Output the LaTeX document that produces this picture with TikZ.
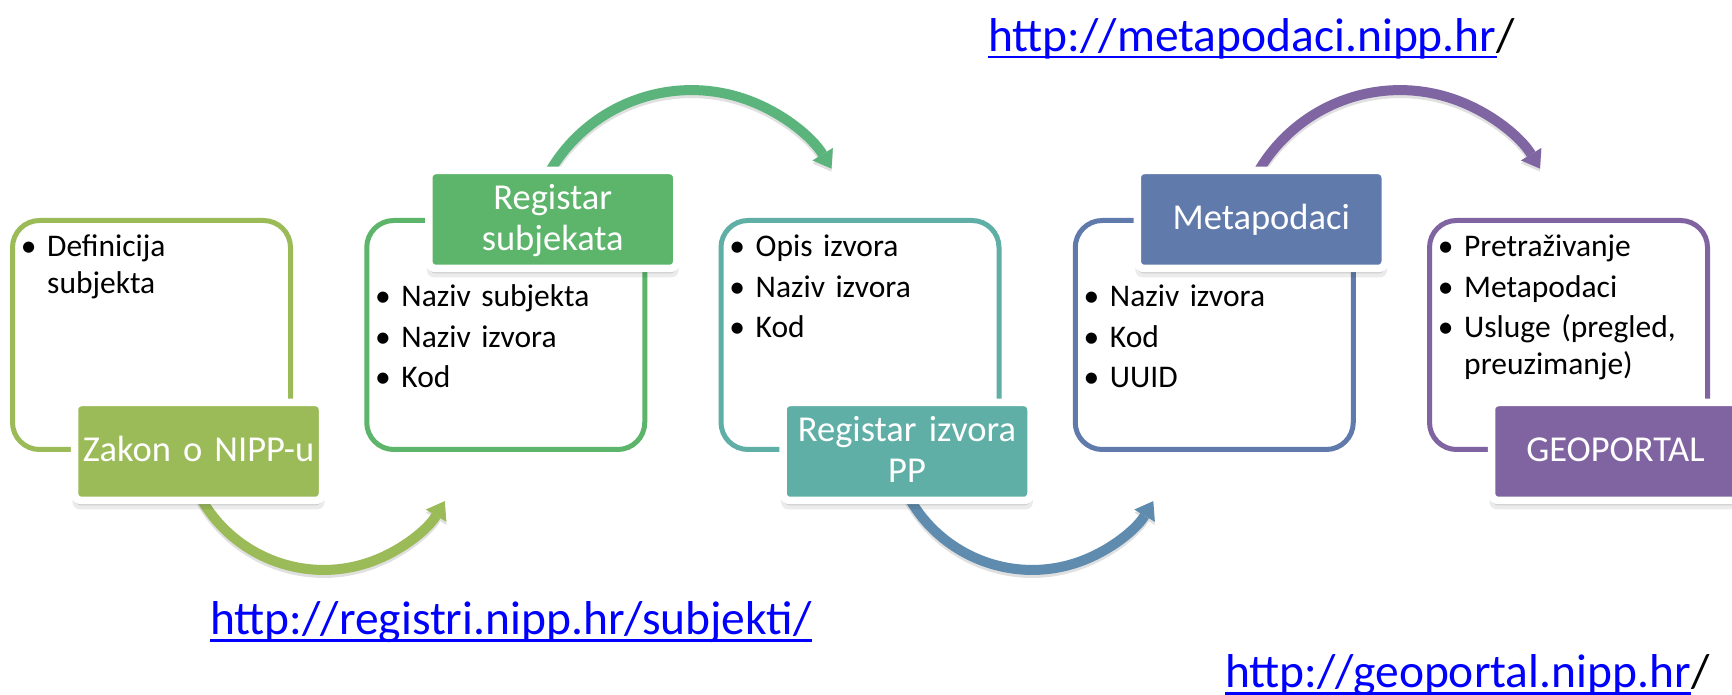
\documentclass[tikz,border=0pt]{standalone}
\usepackage{fontspec}
\setmainfont{Carlito}
\usetikzlibrary{arrows.meta,shadows}
\pgfdeclarelayer{back}
\pgfdeclarelayer{bg}
\pgfsetlayers{back,bg,main}
\definecolor{cA}{HTML}{9BBB59}
\definecolor{cB}{HTML}{5CB56A}
\definecolor{cAB}{HTML}{5BB47C}
\definecolor{cC}{HTML}{5FAFA6}
\definecolor{cCD}{HTML}{5F8CAE}
\definecolor{cD}{HTML}{607AAB}
\definecolor{cDE}{HTML}{7F66A3}
\definecolor{cE}{HTML}{8064A2}
\definecolor{urlblue}{HTML}{0000FF}
\newcommand{\bl}{\leavevmode\llap{\makebox[37pt]{•}}}
\tikzset{
  frame/.style={draw=#1, line width=5pt, rounded corners=27pt, minimum width=278pt, minimum height=229pt, inner sep=0pt},
  lbl/.style={fill=#1, draw=white, line width=7.5pt, rounded corners=7pt, minimum width=248pt, minimum height=98pt,
    inner sep=0pt, text width=240pt, align=center, text=white, font=\fontsize{36.5}{41}\selectfont,
    general shadow={fill=black, opacity=0.08, shadow yshift=-8pt, shadow scale=1.015},
    general shadow={fill=black, opacity=0.12, shadow yshift=-5pt}},
  one/.style={text height=21pt, text depth=0pt},
  two/.style={text height=21pt, text depth=41pt},
  item/.style={anchor=base west, inner sep=0pt, text width=270pt, align=left, font=\fontsize{31.5}{37}\selectfont},
  flow/.style={draw=#1, line width=10pt, -{Triangle[length=17pt,width=24pt,line width=0pt]}},
  flowshadow/.style={draw=black, opacity=0.12, line width=10pt, -{Triangle[length=17pt,width=24pt,line width=0pt]}},
  url/.style={anchor=base west, inner sep=0pt, text=urlblue, font=\fontsize{47.5}{55}\selectfont},
  slash/.style={anchor=base west, inner sep=0pt, text=black, font=\fontsize{47.5}{55}\selectfont},
  uline/.style={draw=urlblue, line width=2.5pt},
}
\begin{document}
\begin{tikzpicture}[x=1pt,y=1pt]
\useasboundingbox (0,0) rectangle (1732,695);
\begin{pgfonlayer}{back}
\fill[white] (0,0) rectangle (1732,695);
\end{pgfonlayer}

% boxes
\node[frame=cA] (box1) at (151.5,360) {};
\node[frame=cB] (box2) at (505.75,360) {};
\node[frame=cC] (box3) at (860,360) {};
\node[frame=cD] (box4) at (1214.25,360) {};
\node[frame=cE] (box5) at (1568.5,360) {};

% labels
\node[lbl=cA, one] (lab1) at (198.5,243.5) {Zakon o NIPP-u};
\node[lbl=cB, two] (lab2) at (552.75,475.5) {Registar\\subjekata};
\node[lbl=cC, two] (lab3) at (907,243.5) {Registar izvora\\PP};
\node[lbl=cD, one] (lab4) at (1261.25,475.5) {Metapodaci};
\node[lbl=cE, one] (lab5) at (1615.5,243.5) {GEOPORTAL};

% items
\node[item] (i11) at (47,438) {\bl Definicija\\subjekta};
\node[item] (i21) at (401.25,388) {\bl Naziv subjekta};
\node[item] (i22) at (401.25,347.5) {\bl Naziv izvora};
\node[item] (i23) at (401.25,307) {\bl Kod};
\node[item] (i31) at (755.5,438) {\bl Opis izvora};
\node[item] (i32) at (755.5,397.5) {\bl Naziv izvora};
\node[item] (i33) at (755.5,357) {\bl Kod};
\node[item] (i41) at (1109.75,388) {\bl Naziv izvora};
\node[item] (i42) at (1109.75,347.5) {\bl Kod};
\node[item] (i43) at (1109.75,307) {\bl UUID};
\node[item] (i51) at (1464,438) {\bl Pretraživanje};
\node[item] (i52) at (1464,397.5) {\bl Metapodaci};
\node[item] (i53) at (1464,357) {\bl Usluge (pregled,\\preuzimanje)};

% arc centres
\path ([xshift=6pt]lab1.south) ++(32.3:141) coordinate (c1);
\path (lab2.north) ++(-32.2:164) coordinate (c2);
\path ([xshift=6pt]lab3.south) ++(32.3:141) coordinate (c3);
\path (lab4.north) ++(-32.2:164) coordinate (c4);

\begin{pgfonlayer}{bg}
\draw[flowshadow] ([yshift=-3pt]c1) ++(200:141) arc[start angle=200, end angle=329.2, radius=141];
\draw[flowshadow] ([yshift=-3pt]c2) ++(160:164) arc[start angle=160, end angle=31.4, radius=164];
\draw[flowshadow] ([yshift=-3pt]c3) ++(200:141) arc[start angle=200, end angle=329.2, radius=141];
\draw[flowshadow] ([yshift=-3pt]c4) ++(160:164) arc[start angle=160, end angle=31.4, radius=164];
\draw[flow=cA] (c1) ++(200:141) arc[start angle=200, end angle=329.2, radius=141];
\draw[flow=cAB] (c2) ++(160:164) arc[start angle=160, end angle=31.4, radius=164];
\draw[flow=cCD] (c3) ++(200:141) arc[start angle=200, end angle=329.2, radius=141];
\draw[flow=cDE] (c4) ++(160:164) arc[start angle=160, end angle=31.4, radius=164];
\end{pgfonlayer}

% URLs
\node[url] (url1) at (210,60) {http://registri.nipp.hr/subjekti/};
\draw[uline] ([yshift=-5.5pt]url1.base west) -- ([yshift=-5.5pt]url1.base east);
\node[url] (url2) at (988,643.5) {http://metapodaci.nipp.hr};
\draw[uline] ([yshift=-5.5pt]url2.base west) -- ([yshift=-5.5pt]url2.base east);
\node[slash] (sl2) at (url2.base east) {/};
\node[url] (url3) at (1225,7) {http://geoportal.nipp.hr};
\draw[uline] ([yshift=-5.5pt]url3.base west) -- ([yshift=-5.5pt]url3.base east);
\node[slash] (sl3) at (url3.base east) {/};
\end{tikzpicture}
\end{document}
